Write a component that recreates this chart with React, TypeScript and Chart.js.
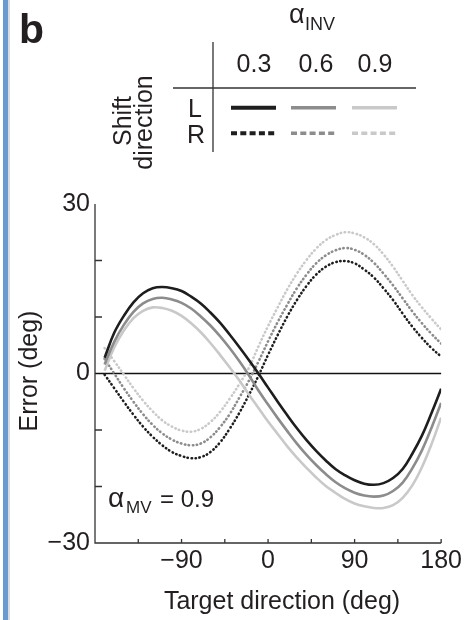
import React, { useEffect, useRef } from 'react';
import { Chart, registerables } from 'chart.js';

Chart.register(...registerables);

// ---- data ----
const targetDirection = [
  -170, -160, -150, -140, -130, -120, -110, -100, -90, -80, -70, -60, -50, -40, -30, -20, -10,
  0, 10, 20, 30, 40, 50, 60, 70, 80, 90, 100, 110, 120, 130, 140, 150, 160, 170, 180,
];

const errorL03 = [
  2.8, 7.2, 10.2, 12.6, 14.2, 15.1, 15.3, 15.1, 14.6, 13.6, 12.4, 10.8, 9.0, 6.9, 4.7, 2.4, 0.0,
  -2.5, -5.0, -7.4, -9.7, -11.8, -13.7, -15.4, -16.9, -18.0, -18.9, -19.5, -19.7, -19.4, -18.5, -16.9, -14.2, -11.0, -7.0, -2.7,
];
const errorL06 = [
  1.6, 5.6, 8.6, 10.9, 12.4, 13.2, 13.4, 13.1, 12.5, 11.5, 10.1, 8.5, 6.6, 4.5, 2.2, -0.3, -3.0,
  -5.5, -7.9, -10.2, -12.4, -14.4, -16.2, -17.8, -19.2, -20.3, -21.1, -21.6, -21.8, -21.6, -20.8, -19.3, -16.8, -13.6, -9.6, -5.2,
];
const errorL09 = [
  0.5, 4.6, 7.6, 9.8, 11.1, 11.7, 11.6, 11.1, 10.2, 8.9, 7.3, 5.4, 3.3, 1.1, -1.2, -3.7, -6.1,
  -8.5, -10.7, -12.9, -14.9, -16.7, -18.4, -19.9, -21.1, -22.2, -23.0, -23.5, -23.8, -23.8, -23.3, -22.0, -19.8, -16.6, -12.5, -7.8,
];
const errorR03 = [
  -0.2, -2.6, -5.0, -7.3, -9.4, -11.2, -12.7, -13.9, -14.6, -15.0, -14.8, -13.9, -12.2, -9.8, -7.0, -3.8, -0.4,
  3.3, 6.8, 10.1, 13.0, 15.5, 17.5, 18.9, 19.7, 19.9, 19.5, 18.4, 17.0, 15.1, 13.0, 10.6, 8.3, 6.3, 4.5, 3.0,
];
const errorR06 = [
  2.6, 0.0, -2.6, -5.0, -7.2, -9.1, -10.6, -11.7, -12.4, -12.7, -12.4, -11.3, -9.5, -7.2, -4.3, -1.3, 2.1,
  5.7, 9.1, 12.2, 15.1, 17.5, 19.5, 20.9, 21.8, 22.2, 21.9, 21.0, 19.6, 17.7, 15.6, 13.3, 11.0, 8.9, 7.0, 5.3,
];
const errorR09 = [
  4.5, 2.2, -0.2, -2.6, -4.8, -6.7, -8.3, -9.4, -10.1, -10.3, -9.8, -8.6, -6.8, -4.5, -1.9, 1.0, 4.8,
  8.4, 11.7, 14.9, 17.7, 20.1, 22.1, 23.6, 24.5, 25.0, 24.8, 24.1, 22.9, 21.1, 18.9, 16.4, 13.9, 11.7, 9.7, 7.8,
];

const xTickLabels = [-90, 0, 90, 180];
const yTickLabels = [-30, 0, 30];
const xTickMarks = [-135, -90, -45, 0, 45, 90, 135, 180];
const yTickMarks = [-20, -10, 10, 20];
const alphaInvValues = ['0.3', '0.6', '0.9'];
const shiftDirections = ['L', 'R'];
const alphaMV = '0.9';

// ---- styles ----
const FONT = '"Liberation Sans", Arial, Helvetica, sans-serif';
const TEXT = '#231f20';
const COLORS = ['#1e1e1e', '#8c8c8c', '#c9c9c9'];
const DOTS = [0.4, 3.6];

const fmt = (v: number) => (v < 0 ? '\u2212' + Math.abs(v) : String(v));

const pts = (ys: number[]) => targetDirection.map((x, i) => ({ x, y: ys[i] }));

const decorPlugin = {
  id: 'decor',
  beforeDraw(chart: any) {
    const { ctx } = chart;
    ctx.save();
    ctx.fillStyle = '#ffffff';
    ctx.fillRect(0, 0, chart.width, chart.height);
    ctx.fillStyle = '#6a9ad0';
    ctx.fillRect(3, 0, 5, chart.height);
    ctx.fillStyle = '#d6dce4';
    ctx.fillRect(8, 0, 2, chart.height);
    ctx.restore();
  },
  beforeDatasetsDraw(chart: any) {
    const { ctx, chartArea: ca, scales } = chart;
    const y0 = scales.y.getPixelForValue(0);
    ctx.save();
    ctx.strokeStyle = '#111';
    ctx.lineWidth = 1.3;
    ctx.beginPath();
    ctx.moveTo(ca.left, y0);
    ctx.lineTo(ca.right, y0);
    ctx.stroke();
    ctx.restore();
  },
  afterDraw(chart: any) {
    const { ctx, chartArea: ca, scales } = chart;
    const xs = scales.x;
    const ys = scales.y;
    ctx.save();
    // axes
    ctx.strokeStyle = '#333';
    ctx.lineWidth = 1.3;
    ctx.beginPath();
    ctx.moveTo(ca.left, ys.getPixelForValue(30));
    ctx.lineTo(ca.left, ca.bottom);
    ctx.lineTo(xs.getPixelForValue(180), ca.bottom);
    ctx.stroke();
    ctx.beginPath();
    yTickMarks.forEach((v) => {
      const p = ys.getPixelForValue(v);
      ctx.moveTo(ca.left, p);
      ctx.lineTo(ca.left + 7, p);
    });
    xTickMarks.forEach((v) => {
      const p = xs.getPixelForValue(v);
      ctx.moveTo(p, ca.bottom);
      ctx.lineTo(p, ca.bottom - 4);
    });
    ctx.stroke();

    ctx.fillStyle = TEXT;
    ctx.textBaseline = 'alphabetic';
    // axis titles
    ctx.font = `25px ${FONT}`;
    ctx.textAlign = 'center';
    ctx.fillText('Target direction (deg)', 282, 609);
    ctx.save();
    ctx.translate(37, 371);
    ctx.rotate(-Math.PI / 2);
    ctx.fillText('Error (deg)', 0, 0);
    ctx.restore();

    // panel letter
    ctx.textAlign = 'left';
    ctx.font = `bold 41px ${FONT}`;
    ctx.fillText('b', 19, 43);

    // alpha_MV annotation
    ctx.font = `28px ${FONT}`;
    ctx.fillText('\u03b1', 108, 507);
    ctx.font = `17px ${FONT}`;
    ctx.fillText('MV', 126, 513);
    ctx.font = `24px ${FONT}`;
    ctx.fillText('= ' + alphaMV, 160, 507);

    // legend table
    ctx.font = `27px ${FONT}`;
    ctx.fillText('\u03b1', 289, 23);
    ctx.font = `18px ${FONT}`;
    ctx.fillText('INV', 305, 30);

    const colCenters = [254, 316, 375];
    ctx.font = `25px ${FONT}`;
    ctx.textAlign = 'center';
    alphaInvValues.forEach((t, i) => ctx.fillText(t, colCenters[i], 72));
    ctx.textAlign = 'left';
    ctx.fillText(shiftDirections[0], 188, 117);
    ctx.fillText(shiftDirections[1], 187, 143);

    ctx.save();
    ctx.translate(131, 121);
    ctx.rotate(-Math.PI / 2);
    ctx.textAlign = 'center';
    ctx.fillText('Shift', 0, 0);
    ctx.restore();
    ctx.save();
    ctx.translate(152, 122.5);
    ctx.rotate(-Math.PI / 2);
    ctx.textAlign = 'center';
    ctx.fillText('direction', 0, 0);
    ctx.restore();

    ctx.strokeStyle = '#333';
    ctx.lineWidth = 1.3;
    ctx.beginPath();
    ctx.moveTo(173, 88);
    ctx.lineTo(416, 88);
    ctx.moveTo(213, 42);
    ctx.lineTo(213, 152);
    ctx.stroke();

    const segs = [
      [231, 276],
      [291, 336],
      [352, 397],
    ];
    segs.forEach(([a, b], i) => {
      ctx.strokeStyle = COLORS[i];
      ctx.lineWidth = i === 0 ? 4 : 3.5;
      ctx.setLineDash([]);
      ctx.beginPath();
      ctx.moveTo(a, 107.7);
      ctx.lineTo(b, 107.7);
      ctx.stroke();
      ctx.setLineDash([6, 3.3]);
      ctx.beginPath();
      ctx.moveTo(a, 133.3);
      ctx.lineTo(b, 133.3);
      ctx.stroke();
    });
    ctx.restore();
  },
};

export default function App() {
  const ref = useRef<HTMLCanvasElement | null>(null);

  useEffect(() => {
    if (!ref.current) return;
    const solid = (ys: number[], c: string) => ({
      data: pts(ys),
      borderColor: c,
      borderWidth: 2.6,
      pointRadius: 0,
      tension: 0.4,
      fill: false,
    });
    const dotted = (ys: number[], c: string) => ({
      data: pts(ys),
      borderColor: c,
      borderWidth: 2.6,
      borderDash: DOTS,
      borderCapStyle: 'round',
      pointRadius: 0,
      tension: 0.4,
      fill: false,
    });
    const chart = new Chart(ref.current, {
      type: 'line',
      data: {
        datasets: [
          solid(errorL03, COLORS[0]),
          solid(errorL06, COLORS[1]),
          solid(errorL09, COLORS[2]),
          dotted(errorR03, COLORS[0]),
          dotted(errorR06, COLORS[1]),
          dotted(errorR09, COLORS[2]),
        ] as any,
      },
      options: {
        responsive: false,
        animation: false,
        devicePixelRatio: 1,
        layout: { padding: { top: 204, right: 23, left: 0, bottom: 0 } },
        plugins: { legend: { display: false }, tooltip: { enabled: false } },
        scales: {
          x: {
            type: 'linear',
            min: -180,
            max: 180,
            afterBuildTicks: (s: any) => {
              s.ticks = xTickLabels.map((v) => ({ value: v }));
            },
            afterFit: (s: any) => {
              s.height = 77;
            },
            grid: { display: false, drawTicks: false },
            border: { display: false },
            ticks: {
              autoSkip: false,
              maxRotation: 0,
              padding: 3,
              color: TEXT,
              font: { family: FONT, size: 25 },
              callback: (v: any) => fmt(Number(v)),
            },
          },
          y: {
            type: 'linear',
            min: -30,
            max: 30,
            afterBuildTicks: (s: any) => {
              s.ticks = yTickLabels.map((v) => ({ value: v }));
            },
            afterFit: (s: any) => {
              s.width = 95;
            },
            grid: { display: false, drawTicks: false },
            border: { display: false },
            ticks: {
              autoSkip: false,
              padding: 5,
              color: TEXT,
              font: { family: FONT, size: 25 },
              callback: (v: any) => fmt(Number(v)),
            },
          },
        },
      } as any,
      plugins: [decorPlugin],
    });
    return () => chart.destroy();
  }, []);

  return (
    <div style={{ position: 'fixed', left: 0, top: 0, width: 465, height: 620, background: '#fff' }}>
      <canvas ref={ref} width={465} height={620} style={{ width: 465, height: 620, display: 'block' }} />
    </div>
  );
}
